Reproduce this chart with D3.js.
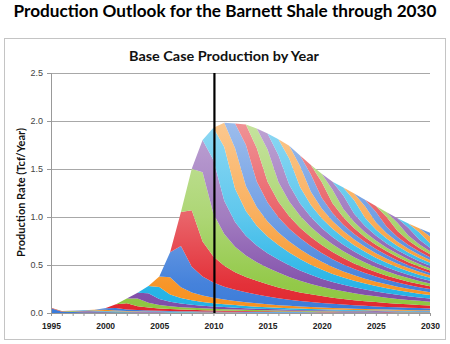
<!DOCTYPE html>
<html><head><meta charset="utf-8">
<script src="https://cdnjs.cloudflare.com/ajax/libs/d3/7.8.5/d3.min.js"></script>
<style>body{margin:0;background:#fff}</style>
</head><body>
<svg id="c" width="450" height="344"></svg>
<script>
// ---- data ----
const years = [1995,1996,1997,1998,1999,2000,2001,2002,2003,2004,2005,2006,2007,2008,2009,2010,
  2011,2012,2013,2014,2015,2016,2017,2018,2019,2020,2021,2022,2023,2024,2025,2026,2027,2028,2029,2030];
// production of wells completed before 1995 (Tcf/yr), bottom layer
const existingWells = [0.05,0.012,0.010,0.009,0.008,0.008,0.007,0.007,0.006,0.006,0.006,0.005,0.005,0.005,0.005,0.005,
  0.005,0.005,0.005,0.005,0.005,0.005,0.005,0.005,0.005,0.005,0.0045,0.0045,0.0045,0.0045,0.0045,0.004,0.004,0.004,0.004,0.004];
// cohort (year of completion) -> peak annual rate (Tcf/yr)
const cohortYears = [1995,1996,1997,1998,1999,2000,2001,2002,2003,2004,2005,2006,2007,2008,2009,2010,
  2011,2012,2013,2014,2015,2016,2017,2018,2019,2020,2021,2022,2023,2024,2025,2026,2027,2028,2029,2030];
const cohortPeak = [0.006,0.006,0.007,0.009,0.014,0.025,0.065,0.08,0.10,0.125,0.18,0.43,0.59,0.72,0.56,0.56,
  0.42,0.43,0.35,0.335,0.28,0.275,0.22,0.18,0.165,0.14,0.14,0.14,0.12,0.11,0.10,0.085,0.08,0.075,0.07,0.065];
// relative rate of a cohort by age in years (age 0 = year of completion)
const ageProfile = [0.6,1,0.62,0.46,0.37,0.31,0.27,0.24,0.215,0.19,0.17,0.15,0.135,0.122,0.11,0.10,0.091,0.083,
  0.076,0.07,0.064,0.059,0.055,0.051,0.047,0.044,0.041,0.038,0.036,0.034,0.032,0.030,0.028,0.027,0.026,0.025];
const yTicks = [0,0.5,1.0,1.5,2.0,2.5];
const xLabels = [1995,2000,2005,2010,2015,2020,2025,2030];
const markerYear = 2010;
const palette = ["#3b7bd9","#e1262f","#8dc63f","#7e4aa8","#1fb1e6","#f7901e"];

// ---- table ----
const keys = ["pre"].concat(cohortYears.map(c => "c" + c));
const table = years.map((yr, i) => {
  const row = {year: yr, pre: existingWells[i]};
  cohortYears.forEach((c, j) => {
    row["c" + c] = yr >= c ? cohortPeak[j] * ageProfile[yr - c] : 0;
  });
  return row;
});

const svg = d3.select("#c");
const x = d3.scaleLinear().domain([1995, 2030]).range([51, 430]);
const y = d3.scaleLinear().domain([0, 2.5]).range([313, 73]);

// gradients
const defs = svg.append("defs");
palette.forEach((col, i) => {
  const g = defs.append("linearGradient").attr("id", "g" + i)
    .attr("gradientUnits", "userSpaceOnUse")
    .attr("x1", 0).attr("x2", 0).attr("y1", y(2.0)).attr("y2", y(0));
  g.append("stop").attr("offset", 0).attr("stop-color", d3.interpolateRgb(col, "#fff")(0.5));
  g.append("stop").attr("offset", 0.5).attr("stop-color", d3.interpolateRgb(col, "#fff")(0.28));
  g.append("stop").attr("offset", 0.85).attr("stop-color", d3.interpolateRgb(col, "#fff")(0.05));
  g.append("stop").attr("offset", 1).attr("stop-color", col);
});

// frame
svg.append("rect").attr("x", 4.5).attr("y", 38.5).attr("width", 441).attr("height", 301)
  .attr("fill", "#fff").attr("stroke", "#c4c4c4");

// titles
svg.append("text").attr("x", 225).attr("y", 17).attr("text-anchor", "middle")
  .attr("font-family", "Lato, 'Open Sans', sans-serif").attr("font-weight", "bold").attr("font-size", 17)
  .attr("textLength", 423).attr("lengthAdjust", "spacingAndGlyphs").attr("fill", "#000")
  .text("Production Outlook for the Barnett Shale through 2030");
svg.append("text").attr("x", 224).attr("y", 61).attr("text-anchor", "middle")
  .attr("font-family", "Lato, 'Open Sans', sans-serif").attr("font-weight", "bold").attr("font-size", 14)
  .attr("textLength", 190).attr("lengthAdjust", "spacingAndGlyphs").attr("fill", "#111")
  .text("Base Case Production by Year");
svg.append("text").attr("transform", "translate(25,192.5) rotate(-90)").attr("text-anchor", "middle")
  .attr("font-family", "Lato, 'Open Sans', sans-serif").attr("font-weight", "bold").attr("font-size", 11)
  .attr("textLength", 129).attr("lengthAdjust", "spacingAndGlyphs").attr("fill", "#111")
  .text("Production Rate (Tcf/Year)");

// gridlines
const grid = svg.append("g").attr("transform", "translate(51,0)")
  .call(d3.axisLeft(y).tickValues(yTicks.filter(v => v > 0)).tickSize(-379).tickFormat(""));
grid.select(".domain").remove();
grid.selectAll("line").attr("stroke", "#a8a8a8");

// stacked areas
const series = d3.stack().keys(keys)(table);
const area = d3.area().x(d => x(d.data.year)).y0(d => y(d[0])).y1(d => y(d[1]));
svg.append("g").selectAll("path").data(series).join("path")
  .attr("d", area)
  .attr("fill", (d, i) => "url(#g" + (i % 6) + ")");

// axes
const ya = svg.append("g").attr("transform", "translate(51,0)")
  .call(d3.axisLeft(y).tickValues(yTicks).tickSize(4).tickPadding(4).tickFormat(d3.format(".1f")));
ya.select(".domain").attr("stroke", "#999");
ya.selectAll("line").attr("stroke", "#999");
ya.selectAll("text").attr("font-family", "'Liberation Sans', Arial, sans-serif").attr("font-size", 9).attr("fill", "#444");

const xa = svg.append("g").attr("transform", "translate(0,313)")
  .call(d3.axisBottom(x).tickValues(years).tickSize(3).tickPadding(7)
    .tickFormat(d => xLabels.includes(d) ? String(d) : ""));
xa.select(".domain").attr("stroke", "#999");
xa.selectAll("line").attr("stroke", "#999");
xa.selectAll("text").attr("font-family", "'Liberation Sans', Arial, sans-serif").attr("font-weight", "bold")
  .attr("font-size", 8.5).attr("fill", "#222");

// 2010 marker
svg.append("line").attr("x1", x(markerYear) + 1).attr("x2", x(markerYear) + 1)
  .attr("y1", y(2.5)).attr("y2", y(0)).attr("stroke", "#000").attr("stroke-width", 2.2);
</script>
</body></html>
